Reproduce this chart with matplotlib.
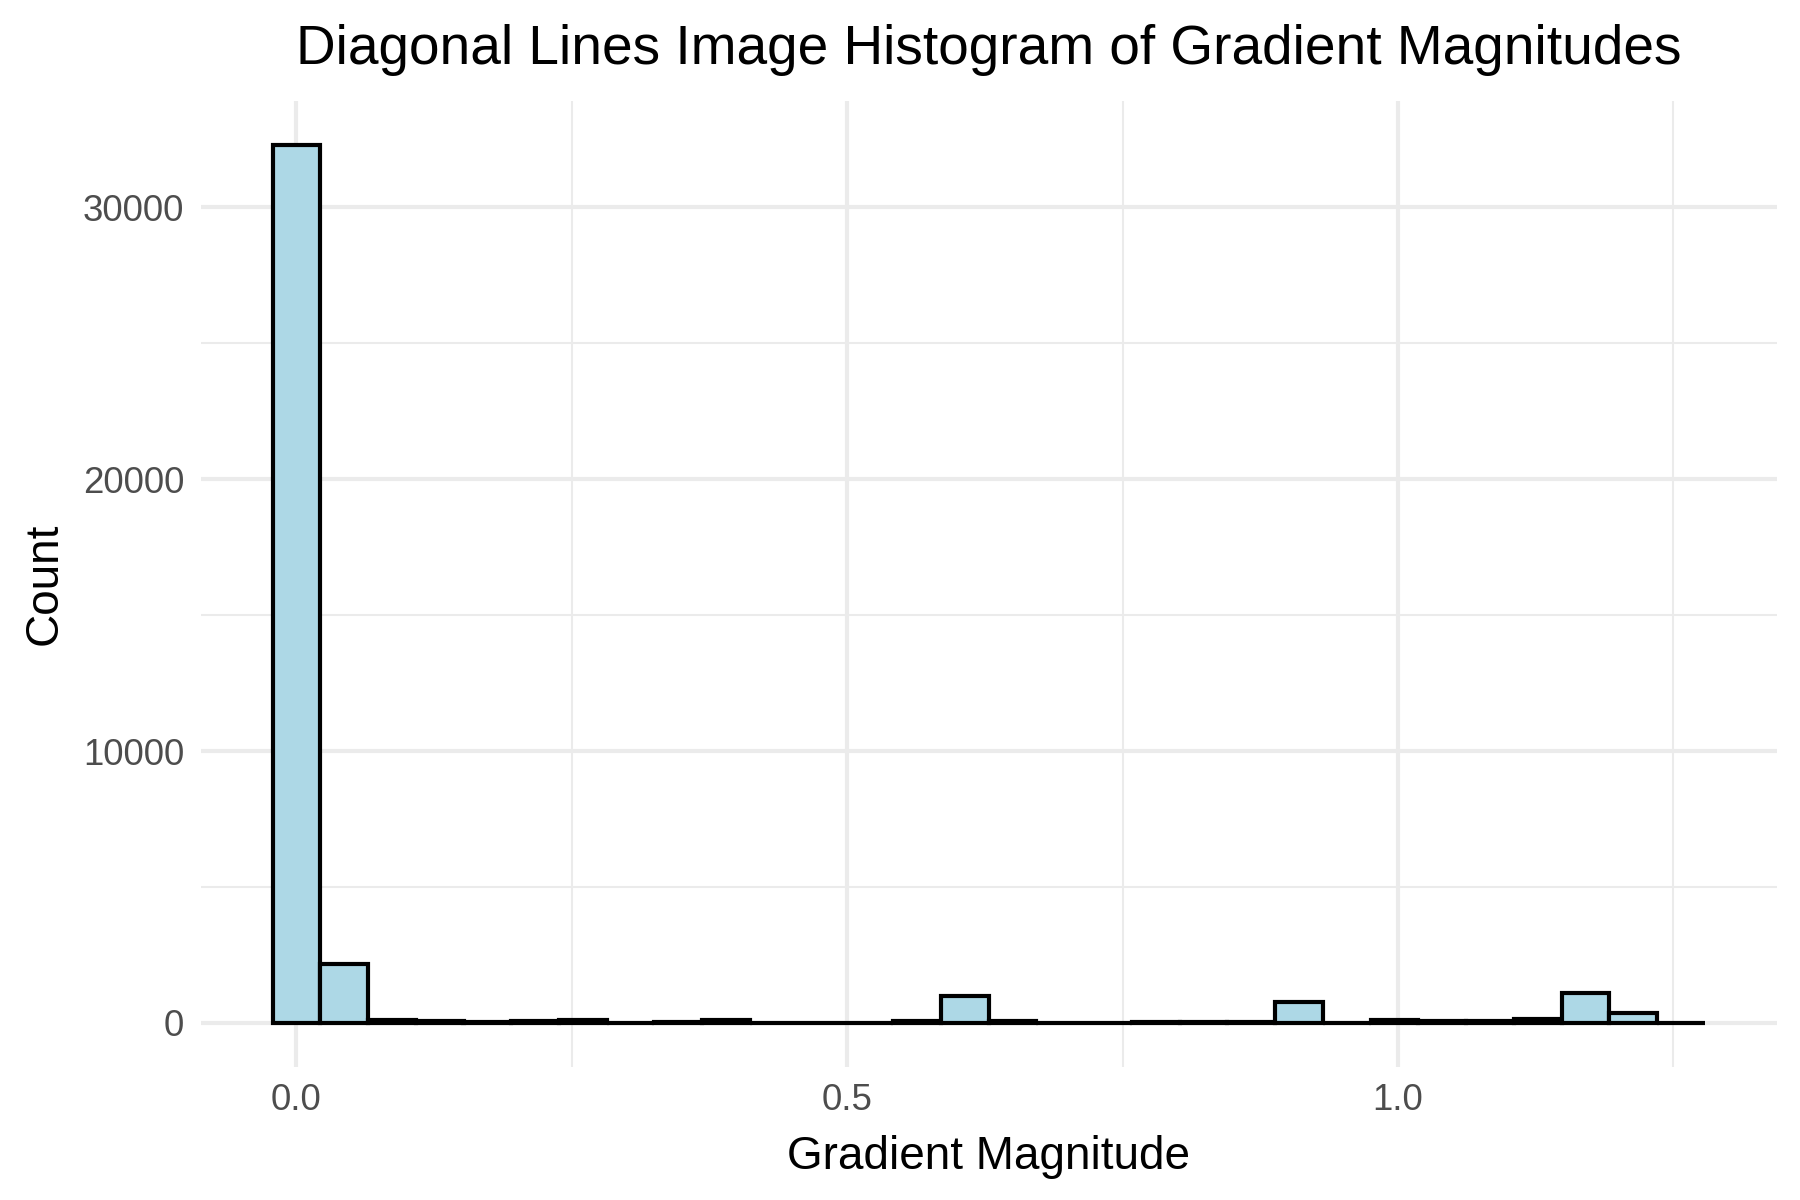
import numpy as np
import matplotlib
matplotlib.use("Agg")
import matplotlib.pyplot as plt
from matplotlib.ticker import MultipleLocator

plt.rcParams['font.family'] = ['Liberation Sans', 'DejaVu Sans']

# histogram: 30 bins, first centred on 0, last centred on the max magnitude
max_mag = 1.257
n_bins = 30
counts = [32300, 2180, 90, 60, 30, 60, 90, 5, 50, 100,
          5, 5, 10, 60, 1000, 60, 5, 10, 30, 30,
          20, 770, 10, 110, 60, 60, 130, 1100, 380, 5]

bw = max_mag / (n_bins - 1)
centers = np.arange(n_bins) * bw

fig = plt.figure(figsize=(6, 4), dpi=300)
ax = fig.add_axes([0.1116, 0.111, 0.8754, 0.8048])

ax.bar(centers, counts, width=bw, color='#ADD8E6', edgecolor='black',
       linewidth=1.0, zorder=3)

xmin, xmax = -bw / 2, max_mag + bw / 2
xpad = (xmax - xmin) * 0.05
ax.set_xlim(xmin - xpad, xmax + xpad)
ymax = max(counts)
ax.set_ylim(-ymax * 0.05, ymax * 1.05)

ax.xaxis.set_major_locator(MultipleLocator(0.5))
ax.xaxis.set_minor_locator(MultipleLocator(0.25))
ax.yaxis.set_major_locator(MultipleLocator(10000))
ax.yaxis.set_minor_locator(MultipleLocator(5000))
ax.set_xticks([0, 0.5, 1.0])
ax.set_xticklabels(['0.0', '0.5', '1.0'])

ax.grid(which='major', color='#EBEBEB', linewidth=1.0, zorder=0)
ax.grid(which='minor', color='#EBEBEB', linewidth=0.5, zorder=0)
ax.set_axisbelow(True)
for s in ax.spines.values():
    s.set_visible(False)
ax.tick_params(which='both', length=0, labelsize=8.8, labelcolor='#4D4D4D', pad=4)

ax.set_xlabel('Gradient Magnitude', fontsize=11, labelpad=4)
ax.set_ylabel('Count', fontsize=11, labelpad=4)
ax.set_title('Diagonal Lines Image Histogram of Gradient Magnitudes', fontsize=13.2, pad=9)

fig.savefig('out.png', dpi=300)
